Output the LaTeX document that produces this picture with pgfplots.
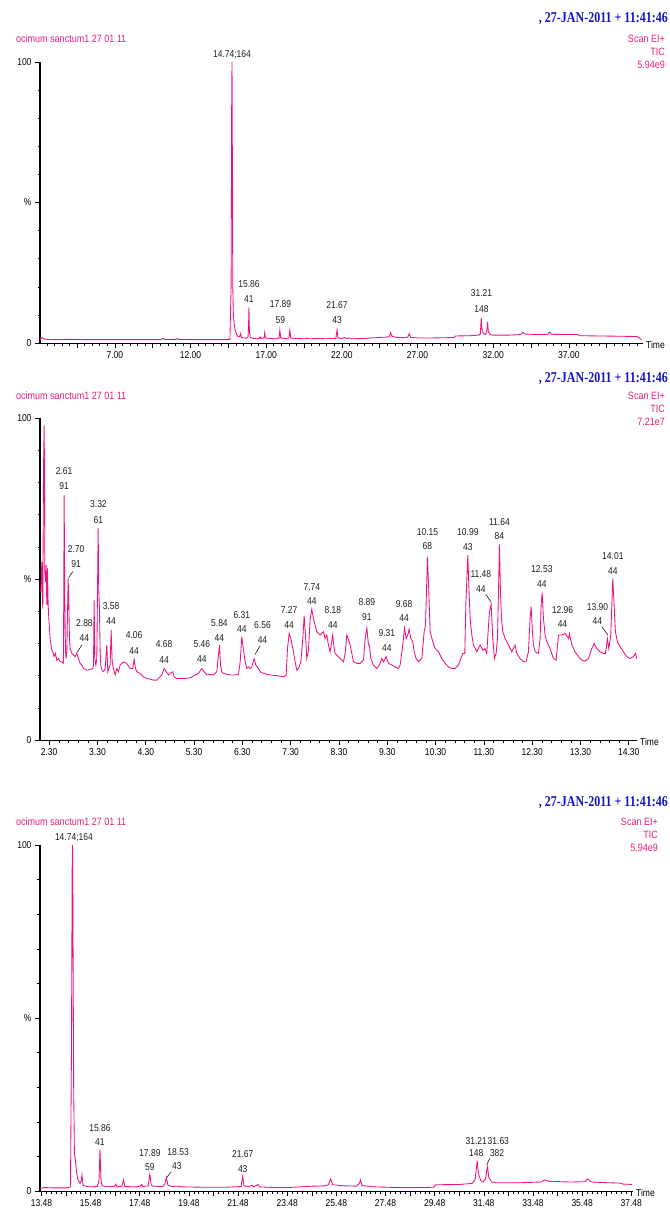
\documentclass[border=0pt]{standalone}
\usepackage{pgfplots}
\pgfplotsset{compat=1.18}
\usepackage{fontspec}
\setmainfont{Liberation Sans}[FakeStretch=0.85]
\newfontfamily\datefont{Liberation Serif}[FakeStretch=0.8]
\definecolor{tic}{RGB}{240,16,128}
\definecolor{hdr}{RGB}{232,30,125}
\definecolor{dateblue}{RGB}{20,20,200}
\definecolor{lbl}{RGB}{30,30,30}
\newcommand\lf{\fontsize{10}{11}\selectfont}
\newcommand\hf{\fontsize{10.6}{12}\selectfont}
\pgfplotsset{chrom/.style={scale only axis, axis x line=bottom, axis y line=left,
  axis line style={-, black, line width=1pt}, y axis line style={line width=1.5pt},
  ymin=0, ymax=100, ytick={0,50,100}, yticklabels={0,\%,100},
  minor ytick={10,20,30,40,60,70,80,90},
  tick align=outside, major tick length=5pt, minor tick length=2.5pt,
  every tick/.style={black, line width=0.6pt},
  tick label style={font=\lf, text=black}, clip=false, anchor=south west},
  tr/.style={tic, line width=0.85pt, mark=none}}
\newcommand\pl[3]{\node[font=\lf, text=lbl, inner sep=0pt] at (axis cs:#1,#2) {#3};}
\newcommand\hdr[4]{%
  \node[anchor=east, inner sep=0pt, font=\datefont\bfseries\fontsize{15}{16}\selectfont, text=dateblue] at (668pt,#1) {,\ 27-JAN-2011 + 11:41:46};
  \node[anchor=west, inner sep=0pt, font=\hf, text=hdr] at (16pt,#2) {ocimum sanctum1 27 01 11};
  \node[anchor=east, inner sep=0pt, font=\hf, text=hdr] at (#4,#2) {Scan EI+};
  \node[anchor=east, inner sep=0pt, font=\hf, text=hdr] at (#4,#2-13pt) {TIC};
  \node[anchor=east, inner sep=0pt, font=\hf, text=hdr] at (#4,#2-26pt) {#3};}
\begin{document}
\begin{tikzpicture}
\useasboundingbox (0,0) rectangle (669pt,-1212pt);
% ---------------- panel 1
\hdr{-19pt}{-39pt}{5.94e9}{665pt}
\begin{axis}[chrom, at={(40pt,-343pt)}, width=603pt, height=281pt,
  xmin=2.05, xmax=41.9,
  xtick={7,12,17,22,27,32,37}, xticklabels={7.00,12.00,17.00,22.00,27.00,32.00,37.00},
  extra x ticks={4.5,9.5,14.5,19.5,24.5,29.5,34.5,39.5}, extra x tick labels={},
  minor xtick={2.5,3,...,41.5}]
\addplot[tr] coordinates {(2.05,1.0)(2.1,1.6)(2.2,1.9)(2.3,1.5)(2.5,1.3)(3.0,1.2)(4.0,1.3)(5.0,1.2)(6.0,1.2)(7.0,1.2)(8.0,1.2)(9.0,1.2)(10.0,1.2)(10.2,1.6)(10.3,1.2)(11.0,1.3)(11.1,1.6)(11.2,1.3)(12.0,1.2)(13.0,1.2)(14.0,1.2)(14.6,1.3)(14.68,20)(14.72,90)(14.74,100)(14.76,70)(14.79,20)(14.83,9.8)(14.88,7)(14.95,4.5)(15.05,3.0)(15.15,2.2)(15.25,2.4)(15.3,3.3)(15.36,2.0)(15.5,1.8)(15.7,1.7)(15.8,2.2)(15.84,8)(15.86,12.8)(15.89,4)(15.95,2.0)(16.1,1.7)(16.4,1.5)(16.55,1.7)(16.6,2.2)(16.65,1.6)(16.85,1.8)(16.9,3.7)(16.95,1.8)(17.3,1.6)(17.6,1.5)(17.85,1.8)(17.9,4.5)(17.96,1.8)(18.3,1.6)(18.5,1.8)(18.56,4.5)(18.62,1.8)(19.0,1.6)(19.6,1.5)(19.7,1.8)(19.8,1.5)(20.5,1.6)(21.0,1.5)(21.3,1.7)(21.6,1.6)(21.68,4.7)(21.74,1.8)(22.0,1.6)(22.2,2.0)(22.3,1.6)(22.5,1.8)(22.6,1.5)(23.5,1.6)(24.0,1.8)(24.5,2.0)(25.0,2.1)(25.15,2.4)(25.22,3.7)(25.3,2.5)(25.6,2.0)(26.0,1.9)(26.35,2.1)(26.45,3.3)(26.55,2.0)(27.0,1.8)(28.0,1.8)(29.0,1.9)(29.45,2.0)(29.5,2.5)(30.5,2.6)(31.0,2.8)(31.15,3.2)(31.19,7)(31.21,9)(31.25,5)(31.35,3.5)(31.5,3.0)(31.6,5)(31.63,7.5)(31.68,4)(31.8,3.0)(32.0,2.8)(33.0,2.8)(33.8,3.0)(33.95,3.8)(34.1,3.2)(35.0,3.0)(35.6,3.1)(35.7,3.9)(35.85,3.1)(37.0,3.0)(37.6,3.0)(37.7,2.6)(39.0,2.5)(40.5,2.4)(41.5,2.3)(41.8,1.2)};
\node[font=\lf, text=lbl, inner sep=0pt, anchor=south] at (axis cs:14.74,100) [yshift=3pt] {14.74;164};
\pl{15.86}{21.1}{15.86}\pl{15.86}{15.5}{41}
\pl{17.94}{14.0}{17.89}\pl{17.94}{8.3}{59}
\pl{21.68}{13.6}{21.67}\pl{21.68}{8.1}{43}
\pl{31.23}{17.9}{31.21}\pl{31.23}{12.2}{148}
\node[anchor=west, font=\lf, inner sep=0pt] at (rel axis cs:1,0) [xshift=3pt, yshift=-1.5pt] {Time};
\end{axis}
% ---------------- panel 2
\hdr{-379pt}{-396pt}{7.21e7}{665pt}
\begin{axis}[chrom, at={(40pt,-740pt)}, width=597pt, height=322pt,
  xmin=2.11, xmax=14.47,
  xtick={2.3,3.3,4.3,5.3,6.3,7.3,8.3,9.3,10.3,11.3,12.3,13.3,14.3},
  xticklabels={2.30,3.30,4.30,5.30,6.30,7.30,8.30,9.30,10.30,11.30,12.30,13.30,14.30},
  minor xtick={2.1,2.3,...,14.5}]
\addplot[tr] coordinates {(2.127,46.0)(2.148,55.3)(2.161,43.9)(2.168,40.8)(2.182,83.2)(2.196,97.7)(2.203,83.2)(2.210,52.2)(2.224,49.1)(2.237,54.3)(2.251,41.9)(2.265,53.3)(2.279,41.9)(2.293,37.7)(2.320,31.5)(2.348,28.4)(2.375,27.4)(2.403,25.9)(2.431,26.9)(2.458,24.8)(2.493,25.3)(2.527,24.3)(2.569,24.3)(2.589,23.8)(2.596,24.3)(2.610,76.0)(2.624,41.9)(2.638,27.4)(2.651,25.3)(2.665,27.4)(2.693,50.2)(2.707,41.9)(2.720,31.5)(2.734,28.4)(2.769,26.9)(2.803,26.4)(2.838,25.9)(2.872,26.9)(2.907,25.3)(2.941,23.8)(2.976,23.3)(3.010,22.2)(3.079,21.7)(3.148,21.9)(3.203,22.2)(3.217,23.3)(3.231,43.4)(3.245,25.3)(3.266,23.3)(3.286,25.3)(3.314,65.7)(3.328,46.0)(3.341,40.8)(3.355,27.4)(3.369,23.3)(3.390,21.7)(3.424,21.2)(3.459,22.2)(3.493,29.5)(3.514,21.2)(3.562,23.3)(3.583,34.1)(3.604,24.3)(3.631,22.2)(3.666,20.2)(3.700,22.2)(3.735,21.2)(3.769,23.3)(3.838,24.3)(3.907,23.8)(3.976,22.2)(4.031,22.2)(4.059,25.1)(4.087,22.2)(4.114,21.2)(4.183,20.7)(4.252,19.6)(4.321,19.1)(4.390,18.9)(4.459,18.6)(4.528,18.6)(4.632,20.2)(4.680,22.2)(4.721,21.2)(4.770,20.2)(4.804,20.7)(4.859,21.2)(4.887,19.6)(4.942,19.1)(5.080,19.1)(5.218,19.3)(5.322,20.2)(5.391,20.7)(5.460,22.2)(5.508,21.2)(5.563,20.2)(5.632,20.4)(5.701,20.2)(5.770,21.2)(5.805,26.4)(5.826,29.5)(5.847,23.3)(5.874,21.2)(5.909,20.7)(5.978,20.4)(6.047,20.2)(6.150,20.2)(6.219,20.4)(6.254,24.3)(6.288,32.1)(6.323,27.9)(6.357,24.3)(6.392,22.2)(6.426,22.7)(6.461,22.2)(6.495,22.7)(6.543,25.3)(6.578,23.3)(6.633,22.2)(6.668,21.2)(6.737,20.7)(6.806,20.4)(6.875,20.2)(7.013,20.0)(7.151,19.6)(7.206,20.2)(7.234,28.4)(7.268,33.1)(7.303,31.5)(7.358,27.4)(7.392,24.3)(7.427,21.7)(7.461,22.2)(7.510,24.3)(7.551,31.5)(7.579,38.6)(7.606,32.6)(7.634,25.3)(7.668,27.9)(7.703,37.7)(7.737,40.6)(7.772,37.7)(7.806,35.7)(7.841,33.6)(7.910,32.6)(7.979,33.6)(8.013,31.5)(8.048,32.6)(8.082,29.5)(8.117,27.4)(8.170,32.6)(8.200,28.4)(8.220,26.9)(8.289,25.9)(8.358,24.8)(8.393,24.3)(8.427,26.9)(8.462,32.6)(8.490,31.5)(8.531,29.5)(8.566,26.9)(8.600,24.3)(8.669,23.8)(8.738,23.8)(8.807,24.8)(8.842,31.5)(8.876,34.8)(8.911,29.5)(8.931,29.5)(8.959,25.3)(9.014,23.3)(9.083,22.2)(9.138,23.3)(9.187,25.3)(9.221,24.3)(9.276,25.9)(9.325,23.8)(9.394,23.3)(9.463,22.7)(9.532,22.2)(9.566,23.3)(9.621,29.5)(9.656,34.8)(9.690,31.5)(9.725,32.6)(9.752,34.4)(9.787,31.5)(9.828,30.5)(9.856,27.4)(9.897,25.3)(9.946,24.3)(10.015,25.3)(10.063,33.6)(10.091,35.7)(10.132,56.9)(10.160,46.0)(10.187,33.6)(10.242,30.5)(10.291,28.4)(10.360,27.4)(10.429,25.3)(10.498,23.8)(10.567,22.7)(10.636,22.2)(10.705,22.2)(10.774,23.3)(10.823,25.3)(10.864,26.9)(10.905,26.9)(10.926,41.9)(10.967,57.4)(10.988,48.1)(11.015,37.7)(11.050,32.6)(11.084,29.5)(11.153,27.4)(11.222,29.5)(11.277,27.9)(11.325,28.4)(11.360,26.9)(11.387,33.6)(11.415,39.8)(11.450,42.1)(11.484,31.5)(11.519,25.3)(11.553,26.9)(11.581,31.5)(11.608,50.2)(11.622,60.7)(11.643,46.0)(11.664,37.7)(11.691,33.6)(11.740,31.5)(11.809,29.5)(11.878,27.4)(11.946,29.5)(11.981,26.9)(12.050,25.3)(12.119,24.3)(12.174,24.3)(12.222,27.4)(12.257,37.7)(12.278,41.4)(12.305,33.6)(12.326,29.5)(12.361,27.4)(12.430,26.9)(12.464,31.5)(12.485,41.9)(12.506,45.8)(12.533,37.7)(12.568,32.6)(12.602,30.5)(12.671,28.4)(12.740,25.3)(12.795,24.8)(12.844,32.6)(12.913,32.6)(12.982,33.1)(13.051,31.5)(13.071,33.1)(13.120,29.5)(13.189,27.4)(13.258,25.9)(13.327,24.8)(13.396,24.5)(13.465,25.3)(13.534,28.4)(13.582,30.0)(13.637,28.4)(13.706,27.4)(13.775,26.9)(13.816,26.9)(13.858,31.5)(13.886,28.4)(13.927,32.6)(13.968,50.2)(13.996,41.9)(14.023,33.6)(14.065,30.5)(14.120,29.0)(14.189,27.4)(14.258,25.9)(14.327,25.3)(14.396,25.9)(14.437,26.9)(14.465,25.3)};
\pl{2.61}{83.5}{2.61}\pl{2.61}{78.9}{91}
\pl{3.32}{73.3}{3.32}\pl{3.32}{68.3}{61}
\pl{2.858}{59.3}{2.70}\pl{2.858}{54.7}{91}
\draw[black, line width=0.5pt] (axis cs:2.79,52.3) -- (axis cs:2.70,50.4);
\pl{3.03}{36.3}{2.88}\pl{3.03}{31.7}{44}
\draw[black, line width=0.5pt] (axis cs:2.976,29.5) -- (axis cs:2.87,27.0);
\pl{3.583}{41.6}{3.58}\pl{3.583}{37.0}{44}
\pl{4.059}{32.6}{4.06}\pl{4.059}{27.7}{44}
\pl{4.68}{29.8}{4.68}\pl{4.68}{24.8}{44}
\pl{5.46}{29.8}{5.46}\pl{5.46}{25.2}{44}
\pl{5.825}{36.3}{5.84}\pl{5.825}{31.7}{44}
\pl{6.289}{38.8}{6.31}\pl{6.289}{34.5}{44}
\pl{6.716}{35.7}{6.56}\pl{6.716}{31.1}{44}
\draw[black, line width=0.5pt] (axis cs:6.668,29.3) -- (axis cs:6.564,26.6);
\pl{7.268}{40.4}{7.27}\pl{7.268}{35.7}{44}
\pl{7.738}{47.6}{7.74}\pl{7.738}{43.2}{44}
\pl{8.173}{40.4}{8.18}\pl{8.173}{35.7}{44}
\pl{8.877}{42.8}{8.89}\pl{8.877}{38.1}{91}
\pl{9.291}{33.1}{9.31}\pl{9.291}{28.5}{44}
\pl{9.649}{42.2}{9.68}\pl{9.649}{37.8}{44}
\pl{10.132}{64.7}{10.15}\pl{10.132}{60.2}{68}
\pl{10.968}{64.5}{10.99}\pl{10.968}{60.0}{43}
\pl{11.237}{51.5}{11.48}\pl{11.237}{46.9}{44}
\draw[black, line width=0.5pt] (axis cs:11.34,45.2) -- (axis cs:11.45,42.8);
\pl{11.622}{67.8}{11.64}\pl{11.622}{63.4}{84}
\pl{12.5}{53.0}{12.53}\pl{12.5}{48.4}{44}
\pl{12.927}{40.5}{12.96}\pl{12.927}{35.9}{44}
\pl{13.651}{41.4}{13.90}\pl{13.651}{37.0}{44}
\draw[black, line width=0.5pt] (axis cs:13.74,35.2) -- (axis cs:13.867,32.6);
\pl{13.97}{57.1}{14.01}\pl{13.97}{52.5}{44}
\node[anchor=west, font=\lf, inner sep=0pt] at (rel axis cs:1,0) [xshift=3pt, yshift=-1.5pt] {Time};
\end{axis}
% ---------------- panel 3
\hdr{-803pt}{-822pt}{5.94e9}{658pt}
\begin{axis}[chrom, at={(40pt,-1191pt)}, width=593pt, height=346pt,
  xmin=13.42, xmax=37.55,
  xtick={13.48,15.48,17.48,19.48,21.48,23.48,25.48,27.48,29.48,31.48,33.48,35.48,37.48},
  xticklabels={13.48,15.48,17.48,19.48,21.48,23.48,25.48,27.48,29.48,31.48,33.48,35.48,37.48},
  extra x ticks={14.48,16.48,18.48,20.48,22.48,24.48,26.48,28.48,30.48,32.48,34.48,36.48}, extra x tick labels={},
  minor xtick={13.68,13.88,...,37.48}]
\addplot[tr] coordinates {(13.42,0.8)(13.6,1.0)(14.0,0.9)(14.5,0.9)(14.66,1.2)(14.7,40)(14.73,95)(14.745,100)(14.76,80)(14.79,30)(14.82,11)(14.86,9)(14.9,6)(14.95,3.5)(15.05,2.2)(15.1,3)(15.13,4.6)(15.17,1.6)(15.4,1.2)(15.75,1.3)(15.82,3)(15.86,12)(15.9,3)(15.95,1.5)(16.2,1.2)(16.45,1.4)(16.5,2.0)(16.55,1.2)(16.75,1.4)(16.82,3.2)(16.87,1.3)(17.3,1.2)(17.5,1.4)(17.55,1.9)(17.6,1.3)(17.82,1.5)(17.89,4.9)(17.94,2)(18.0,1.4)(18.4,1.3)(18.5,2)(18.56,3.9)(18.63,1.6)(18.8,1.3)(19.0,1.4)(19.2,1.2)(20.0,1.1)(21.0,1.1)(21.6,1.3)(21.67,4.3)(21.72,1.5)(21.9,1.2)(22.05,1.7)(22.1,1.2)(22.3,1.9)(22.35,1.2)(23.0,1.0)(23.5,1.0)(24.0,1.2)(24.5,1.4)(25.0,1.5)(25.15,1.8)(25.25,3.5)(25.33,1.8)(25.8,1.5)(26.3,1.4)(26.42,2.2)(26.46,3.2)(26.52,1.6)(27.0,1.2)(28.0,1.0)(29.0,1.0)(29.45,1.1)(29.5,1.8)(30.5,1.9)(31.0,2.2)(31.12,3.2)(31.17,6)(31.21,8.8)(31.26,5)(31.36,3)(31.45,2.6)(31.55,3.5)(31.6,6)(31.63,7)(31.68,4)(31.8,2.6)(32.0,2.4)(33.0,2.4)(33.8,2.6)(33.95,3.2)(34.15,2.8)(35.0,2.6)(35.6,2.7)(35.7,3.5)(35.85,2.6)(36.5,2.4)(37.0,2.3)(37.15,2.0)(37.5,1.9)};
\node[font=\lf, text=lbl, inner sep=0pt, anchor=south] at (axis cs:14.80,100) [yshift=3pt] {14.74;164};
\pl{15.86}{18.1}{15.86}\pl{15.86}{14.1}{41}
\pl{17.89}{10.9}{17.89}\pl{17.89}{6.9}{59}
\pl{19.04}{11.2}{18.53}\pl{18.99}{7.3}{43}
\draw[black, line width=0.5pt] (axis cs:18.76,5.5) -- (axis cs:18.57,3.9);
\pl{21.67}{10.7}{21.67}\pl{21.67}{6.3}{43}
\pl{31.17}{14.5}{31.21}\pl{31.17}{10.9}{148}
\pl{32.07}{14.5}{31.63}\pl{32.02}{10.9}{382}
\draw[black, line width=0.5pt] (axis cs:31.72,9.5) -- (axis cs:31.6,7.5);
\node[anchor=west, font=\lf, inner sep=0pt] at (rel axis cs:1,0) [xshift=3pt, yshift=-1.5pt] {Time};
\end{axis}
\end{tikzpicture}
\end{document}
